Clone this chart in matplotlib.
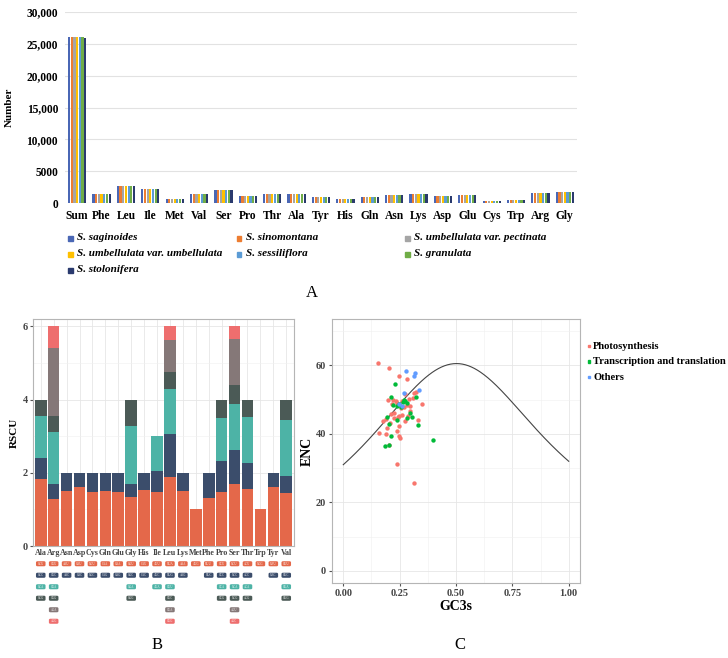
import numpy as np
import matplotlib.pyplot as plt
from matplotlib.patches import FancyBboxPatch, Rectangle

plt.rcParams['font.family'] = ['Liberation Serif', 'DejaVu Serif']

W, H = 728, 658

# === Panel A: amino acid counts per species ===
aa_counts = ['Sum', 'Phe', 'Leu', 'Ile', 'Met', 'Val', 'Ser', 'Pro', 'Thr', 'Ala', 'Tyr',
             'His', 'Gln', 'Asn', 'Lys', 'Asp', 'Glu', 'Cys', 'Trp', 'Arg', 'Gly']
species = ['S. saginoides', 'S. sinomontana', 'S. umbellulata var. pectinata',
           'S. umbellulata var. umbellulata', 'S. sessiliflora', 'S. granulata', 'S. stolonifera']
species_colors = ['#4a67b5', '#ed7d31', '#a5a5a5', '#ffc000', '#5b9bd5', '#70ad47', '#2a3a6e']

n_saginoides = [26120, 1470, 2720, 2250, 580, 1410, 2040, 1100, 1360, 1410, 990, 630, 890, 1260, 1360, 1050, 1310, 370, 470, 1570, 1780]
n_sinomontana = [26110, 1460, 2730, 2240, 580, 1400, 2050, 1090, 1350, 1420, 990, 630, 880, 1250, 1370, 1050, 1300, 370, 470, 1560, 1790]
n_pectinata = [26130, 1470, 2720, 2250, 570, 1410, 2040, 1100, 1360, 1410, 980, 620, 890, 1260, 1360, 1040, 1310, 360, 470, 1570, 1780]
n_umbellulata = [26120, 1470, 2720, 2250, 580, 1410, 2040, 1100, 1360, 1410, 990, 630, 890, 1260, 1360, 1050, 1310, 370, 470, 1570, 1780]
n_sessiliflora = [26100, 1460, 2710, 2240, 580, 1400, 2030, 1100, 1350, 1400, 990, 630, 890, 1250, 1360, 1050, 1300, 370, 470, 1560, 1780]
n_granulata = [26110, 1470, 2720, 2250, 570, 1410, 2040, 1090, 1360, 1410, 990, 630, 880, 1260, 1350, 1040, 1310, 370, 460, 1570, 1770]
n_stolonifera = [25880, 1450, 2700, 2230, 570, 1400, 2020, 1090, 1350, 1400, 980, 620, 880, 1250, 1350, 1040, 1300, 360, 460, 1550, 1770]
counts = [n_saginoides, n_sinomontana, n_pectinata, n_umbellulata, n_sessiliflora, n_granulata, n_stolonifera]

# === Panel B: RSCU stacked by codon ===
aa_rscu = ['Ala', 'Arg', 'Asn', 'Asp', 'Cys', 'Gln', 'Glu', 'Gly', 'His', 'Ile',
           'Leu', 'Lys', 'Met', 'Phe', 'Pro', 'Ser', 'Thr', 'Trp', 'Tyr', 'Val']
codon_1 = ['GCU', 'CGU', 'AAU', 'GAU', 'UGU', 'CAA', 'GAA', 'GGU', 'CAU', 'AUU', 'UUA', 'AAA', 'AUG', 'UUU', 'CCU', 'UCU', 'ACU', 'UGG', 'UAU', 'GUU']
codon_2 = ['GCC', 'CGC', 'AAC', 'GAC', 'UGC', 'CAG', 'GAG', 'GGC', 'CAC', 'AUC', 'UUG', 'AAG', '', 'UUC', 'CCC', 'UCC', 'ACC', '', 'UAC', 'GUC']
codon_3 = ['GCA', 'CGA', '', '', '', '', '', 'GGA', '', 'AUA', 'CUU', '', '', '', 'CCA', 'UCA', 'ACA', '', '', 'GUA']
codon_4 = ['GCG', 'CGG', '', '', '', '', '', 'GGG', '', '', 'CUC', '', '', '', 'CCG', 'UCG', 'ACG', '', '', 'GUG']
codon_5 = ['', 'AGA', '', '', '', '', '', '', '', '', 'CUA', '', '', '', '', 'AGU', '', '', '', '']
codon_6 = ['', 'AGG', '', '', '', '', '', '', '', '', 'CUG', '', '', '', '', 'AGC', '', '', '', '']
rscu_1 = [1.82, 1.29, 1.51, 1.60, 1.48, 1.51, 1.48, 1.33, 1.52, 1.47, 1.88, 1.49, 1.00, 1.31, 1.47, 1.69, 1.55, 1.00, 1.60, 1.44]
rscu_2 = [0.58, 0.40, 0.49, 0.40, 0.52, 0.49, 0.52, 0.37, 0.48, 0.57, 1.18, 0.51, 0, 0.69, 0.85, 0.94, 0.73, 0, 0.40, 0.47]
rscu_3 = [1.15, 1.42, 0, 0, 0, 0, 0, 1.59, 0, 0.96, 1.24, 0, 0, 0, 1.17, 1.24, 1.23, 0, 0, 1.54]
rscu_4 = [0.45, 0.45, 0, 0, 0, 0, 0, 0.71, 0, 0, 0.45, 0, 0, 0, 0.51, 0.53, 0.49, 0, 0, 0.55]
rscu_5 = [0, 1.85, 0, 0, 0, 0, 0, 0, 0, 0, 0.87, 0, 0, 0, 0, 1.25, 0, 0, 0, 0]
rscu_6 = [0, 0.59, 0, 0, 0, 0, 0, 0, 0, 0, 0.38, 0, 0, 0, 0, 0.35, 0, 0, 0, 0]
layer_colors = ['#e4684a', '#3b4d6b', '#4db3a6', '#4b5a56', '#857878', '#ee6e6e']

# === Panel C: ENC vs GC3s ===
photo_gc3 = [0.152, 0.204, 0.249, 0.283, 0.275, 0.315, 0.324, 0.349, 0.198, 0.290, 0.216, 0.234, 0.237, 0.271,
             0.281, 0.296, 0.260, 0.212, 0.226, 0.249, 0.260, 0.297, 0.178, 0.189, 0.223, 0.243, 0.275, 0.330,
             0.249, 0.192, 0.237, 0.160, 0.189, 0.249, 0.250, 0.237, 0.314, 0.204, 0.308, 0.222, 0.207, 0.257, 0.288]
photo_enc = [60.8, 59.3, 57.0, 55.9, 51.6, 51.9, 52.2, 48.8, 50.0, 50.3, 48.6, 49.6, 49.0, 47.9,
             48.3, 48.1, 49.6, 45.9, 46.1, 45.1, 45.4, 46.6, 43.7, 44.2, 44.5, 44.8, 43.7, 44.1,
             42.3, 41.8, 40.8, 40.2, 40.0, 39.3, 38.7, 31.1, 25.8, 36.8, 50.6, 49.8, 43.2, 47.4, 45.1]
trans_gc3 = [0.228, 0.210, 0.321, 0.222, 0.237, 0.249, 0.263, 0.275, 0.281, 0.256, 0.296,
             0.305, 0.281, 0.195, 0.237, 0.204, 0.212, 0.183, 0.204, 0.331, 0.399, 0.268]
trans_enc = [54.5, 50.8, 50.7, 48.5, 48.2, 48.7, 49.3, 49.6, 49.0, 47.9, 46.2,
             45.0, 44.6, 44.8, 44.0, 42.8, 39.4, 36.5, 36.7, 42.7, 38.3, 50.0]
other_gc3 = [0.278, 0.317, 0.315, 0.337, 0.269, 0.260, 0.249]
other_enc = [58.3, 57.8, 56.8, 52.9, 51.8, 48.1, 48.6]
group_names = ['Photosynthesis', 'Transcription and translation', 'Others']
group_colors = ['#f8766d', '#00ba38', '#619cff']


def box(x0, y0, x1, y1):
    return [x0 / W, 1 - y1 / H, (x1 - x0) / W, (y1 - y0) / H]


fig = plt.figure(figsize=(W / 100, H / 100), dpi=100)

# ---------------- A ----------------
axA = fig.add_axes(box(65, 12, 577, 203))
x = np.arange(len(aa_counts))
bw = 0.11
for k, (vals, c) in enumerate(zip(counts, species_colors)):
    axA.bar(x + (k - 3) * bw, vals, width=bw * 0.82, color=c, zorder=2)
axA.set_xlim(-0.5, len(aa_counts) - 0.5)
axA.set_ylim(0, 30000)
axA.set_yticks([0, 5000, 10000, 15000, 20000, 25000, 30000])
axA.set_yticklabels(['0', '5000', '10,000', '15,000', '20,000', '25,000', '30,000'],
                    fontsize=8.3, fontweight='bold')
axA.set_xticks(x)
axA.set_xticklabels(aa_counts, fontsize=8.3, fontweight='bold')
axA.tick_params(length=0, pad=5)
axA.grid(axis='y', color='#e2e2e2', lw=0.8, zorder=0)
for s in axA.spines.values():
    s.set_visible(False)
axA.set_ylabel('Number', fontsize=8, fontweight='bold', labelpad=9)

# legend for A (row-wise, 3 columns)
leg_cols = [70, 239, 407]
leg_rows = [238, 254, 270]
for i, (name, c) in enumerate(zip(species, species_colors)):
    cx = leg_cols[i % 3]
    cy = leg_rows[i // 3]
    fig.patches.append(Rectangle(((cx - 2.5) / W, 1 - (cy + 2.5) / H), 5 / W, 5 / H,
                                 transform=fig.transFigure, color=c))
    fig.text((cx + 7) / W, 1 - cy / H, name, fontsize=8, fontweight='bold',
             fontstyle='italic', va='center', ha='left')

fig.text(312 / W, 1 - 293 / H, 'A', fontsize=12, ha='center', va='center')

# ---------------- B ----------------
axB = fig.add_axes(box(33, 319, 294, 546))
xb = np.arange(len(aa_rscu))
layers = [rscu_1, rscu_2, rscu_3, rscu_4, rscu_5, rscu_6]
bottom = np.zeros(len(aa_rscu))
for vals, c in zip(layers, layer_colors):
    vals = np.array(vals)
    axB.bar(xb, vals, bottom=bottom, width=0.9, color=c, zorder=2)
    bottom += vals
axB.set_xlim(-0.6, len(aa_rscu) - 0.4)
axB.set_ylim(0, 6.2)
axB.set_yticks([0, 2, 4, 6])
axB.set_yticks([1, 3, 5], minor=True)
axB.set_xticks(xb)
axB.set_xticklabels(aa_rscu, fontsize=5.8, fontweight='bold', color='#444444')
axB.set_yticklabels(['0', '2', '4', '6'], fontsize=7.5, fontweight='bold', color='#444444')
axB.tick_params(axis='x', length=0, pad=2)
axB.tick_params(axis='y', which='major', length=2.5, color='#555555', pad=1)
axB.tick_params(axis='y', which='minor', length=0)
axB.grid(which='major', color='#e6e6e6', lw=0.6, zorder=0)
axB.grid(which='minor', axis='y', color='#f0f0f0', lw=0.4, zorder=0)
for s in axB.spines.values():
    s.set_color('#b5b5b5')
    s.set_linewidth(0.8)
axB.set_ylabel('RSCU', fontsize=8, fontweight='bold', labelpad=3)

# codon table under B
axT = fig.add_axes(box(33, 558, 294, 627))
axT.set_xlim(-0.6, len(aa_rscu) - 0.4)
axT.set_ylim(5.5, -0.5)
axT.axis('off')
codon_rows = [codon_1, codon_2, codon_3, codon_4, codon_5, codon_6]
for r, (row, c) in enumerate(zip(codon_rows, layer_colors)):
    for i, cod in enumerate(row):
        if not cod:
            continue
        axT.add_patch(FancyBboxPatch((i - 0.37, r - 0.22), 0.74, 0.44,
                                     boxstyle='round,pad=0,rounding_size=0.12',
                                     mutation_aspect=0.9, fc=c, ec='none'))
        axT.text(i, r, cod, fontsize=2.2, color='white', ha='center', va='center')

fig.text(157 / W, 1 - 645 / H, 'B', fontsize=12, ha='center', va='center')

# ---------------- C ----------------
axC = fig.add_axes(box(332, 319, 580, 583))
s = np.linspace(0, 1, 300)
axC.plot(s, 2 + s + 29 / (s ** 2 + (1 - s) ** 2), color='#444444', lw=0.8, zorder=2)
axC.scatter(photo_gc3, photo_enc, s=10, color=group_colors[0], lw=0, zorder=3)
axC.scatter(trans_gc3, trans_enc, s=10, color=group_colors[1], lw=0, zorder=3)
axC.scatter(other_gc3, other_enc, s=10, color=group_colors[2], lw=0, zorder=3)
axC.set_xlim(-0.05, 1.05)
axC.set_ylim(-3.5, 73.5)
axC.set_xticks([0, 0.25, 0.5, 0.75, 1.0])
axC.set_xticks([0.125, 0.375, 0.625, 0.875], minor=True)
axC.set_yticks([0, 20, 40, 60])
axC.set_yticks([10, 30, 50, 70], minor=True)
axC.set_xticklabels(['0.00', '0.25', '0.50', '0.75', '1.00'], fontsize=7.5,
                    fontweight='bold', color='#444444')
axC.set_yticklabels(['0', '20', '40', '60'], fontsize=7.5, fontweight='bold', color='#444444')
axC.tick_params(which='major', length=2.5, color='#555555', pad=2)
axC.tick_params(which='minor', length=0)
axC.grid(which='major', color='#e6e6e6', lw=0.6, zorder=0)
axC.grid(which='minor', color='#f0f0f0', lw=0.4, zorder=0)
for sp in axC.spines.values():
    sp.set_color('#b5b5b5')
    sp.set_linewidth(0.8)
axC.set_xlabel('GC3s', fontsize=10, fontweight='bold', labelpad=1)
axC.set_ylabel('ENC', fontsize=10, fontweight='bold', labelpad=1)

for i, (name, c) in enumerate(zip(group_names, group_colors)):
    cy = 346 + i * 15.5
    fig.patches.append(Rectangle((588 / W, 1 - (cy + 1.2) / H), 2.4 / W, 2.4 / H,
                                 transform=fig.transFigure, color=c))
    fig.text(593 / W, 1 - cy / H, name, fontsize=7.6, fontweight='bold', va='center', ha='left')

fig.text(460 / W, 1 - 645 / H, 'C', fontsize=12, ha='center', va='center')

fig.savefig('out.png', dpi=100)
